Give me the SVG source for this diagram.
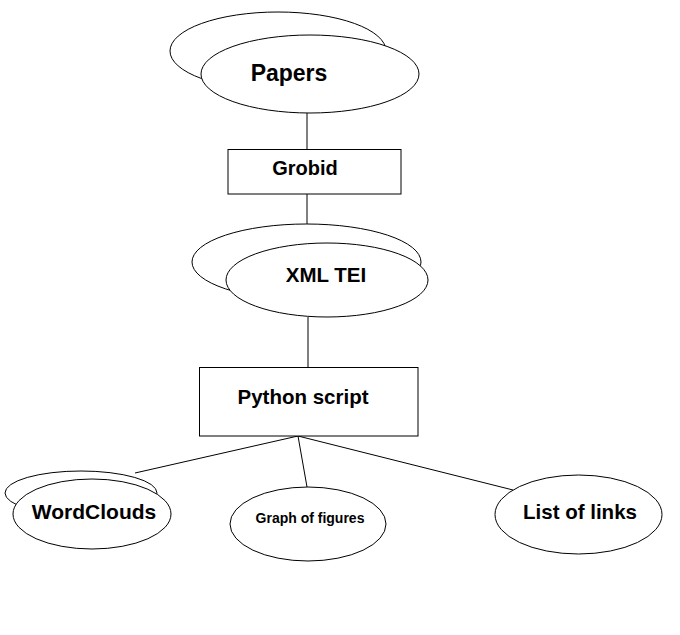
<svg xmlns="http://www.w3.org/2000/svg" width="680" height="635" viewBox="0 0 680 635">
<style>
.s{fill:#fff;stroke:#000;stroke-width:1}
.t{font-family:"Liberation Sans",Arial,sans-serif;font-weight:bold;fill:#000;text-anchor:middle}
.c line{stroke:#000;stroke-width:1}
</style>
<rect width="680" height="635" fill="#fff"/>
<g class="c" id="connectors">
<line x1="307" y1="113" x2="307" y2="149"/>
<line x1="307" y1="194" x2="307" y2="224"/>
<line x1="308" y1="317" x2="308" y2="367"/>
<line x1="298" y1="436" x2="135" y2="473"/>
<line x1="298" y1="436" x2="307" y2="487"/>
<line x1="298" y1="436" x2="513" y2="490"/>
</g>
<g id="papers">
<ellipse class="s" cx="278" cy="51" rx="108" ry="39"/>
<ellipse class="s" cx="310" cy="74" rx="109" ry="39"/>
<text class="t" x="289" y="81" font-size="23">Papers</text>
</g>
<g id="grobid">
<rect class="s" x="228" y="149.5" width="173" height="44.5"/>
<text class="t" x="305" y="175" font-size="20">Grobid</text>
</g>
<g id="xmltei">
<ellipse class="s" cx="306.5" cy="262" rx="114.5" ry="38"/>
<ellipse class="s" cx="327" cy="280" rx="101" ry="37"/>
<text class="t" x="326" y="282" font-size="20.5">XML TEI</text>
</g>
<g id="python">
<rect class="s" x="199.5" y="367.5" width="218.5" height="68.5"/>
<text class="t" x="303" y="404" font-size="20.5">Python script</text>
</g>
<g id="wordclouds">
<ellipse class="s" cx="81" cy="493" rx="76" ry="22"/>
<ellipse class="s" cx="92" cy="514" rx="79" ry="35"/>
<text class="t" x="94" y="519" font-size="21">WordClouds</text>
</g>
<g id="graph">
<ellipse class="s" cx="308" cy="524" rx="78" ry="37"/>
<text class="t" x="310" y="523" font-size="14">Graph of figures</text>
</g>
<g id="links">
<ellipse class="s" cx="578.5" cy="514.5" rx="83.5" ry="39.5"/>
<text class="t" x="580" y="519" font-size="20.5">List of links</text>
</g>
</svg>
